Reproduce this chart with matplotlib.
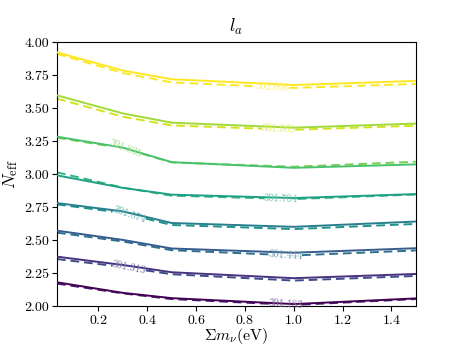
import numpy as np
import matplotlib
matplotlib.use("Agg")
import matplotlib.pyplot as plt

plt.rcParams["font.family"] = "serif"
plt.rcParams["font.serif"] = ["cmr10", "DejaVu Serif"]
plt.rcParams["mathtext.fontset"] = "cm"
plt.rcParams["axes.formatter.use_mathtext"] = True

# sum of neutrino masses (eV) where the grid was evaluated
mnu = [0.03, 0.3, 0.5, 1.0, 1.5]

# l_a contour levels, bottom to top
levels = [301.183, 301.313, 301.444, 301.574, 301.704, 301.835, 301.965, 302.096]

# N_eff of each contour at the mnu points: exact (solid) and approximation (dashed)
neff_solid = [
    [2.180, 2.100, 2.060, 2.015, 2.058],
    [2.374, 2.311, 2.256, 2.211, 2.243],
    [2.571, 2.501, 2.436, 2.404, 2.438],
    [2.780, 2.717, 2.629, 2.600, 2.640],
    [2.990, 2.895, 2.844, 2.818, 2.848],
    [3.283, 3.200, 3.090, 3.047, 3.073],
    [3.596, 3.459, 3.389, 3.351, 3.382],
    [3.922, 3.784, 3.718, 3.674, 3.705],
]
neff_dashed = [
    [2.170, 2.096, 2.053, 2.008, 2.053],
    [2.356, 2.296, 2.241, 2.193, 2.228],
    [2.556, 2.489, 2.423, 2.383, 2.421],
    [2.770, 2.705, 2.614, 2.583, 2.622],
    [3.013, 2.897, 2.836, 2.810, 2.845],
    [3.275, 3.195, 3.088, 3.055, 3.093],
    [3.571, 3.434, 3.368, 3.335, 3.366],
    [3.910, 3.765, 3.694, 3.652, 3.682],
]

# where the inline labels sit along the dashed lines
label_x = [0.966, 0.326, 0.966, 0.326, 0.948, 0.31, 0.939, 0.913]
GAP = 0.068  # half width of the gap cut in the dashed line for a label

fig = plt.figure(figsize=(4.63, 3.47), dpi=100)
ax = fig.add_axes([0.123, 0.118, 0.775, 0.761])

cmap = plt.get_cmap("viridis")
n = len(levels)
x = np.array(mnu)
for i in range(n):
    c_solid = cmap(i / (n - 1))
    c_dash = cmap(min(1.0, i / (n - 1) + 0.08))
    yd = np.array(neff_dashed[i])
    ax.plot(mnu, neff_solid[i], color=c_solid, lw=1.4, zorder=3)

    # dashed line in two pieces, leaving room for the label (like clabel inline)
    lx = label_x[i]
    a, b = lx - GAP, lx + GAP
    left = x < a
    right = x > b
    xl = np.append(x[left], a)
    yl = np.append(yd[left], np.interp(a, x, yd))
    xr = np.insert(x[right], 0, b)
    yr = np.insert(yd[right], 0, np.interp(b, x, yd))
    for xs, ys in ((xl, yl), (xr, yr)):
        ax.plot(xs, ys, color=c_dash, lw=1.4, ls=(0, (4.5, 2.5)), zorder=2)

    ly = np.interp(lx, x, yd)
    k = min(max(np.searchsorted(x, lx), 1), len(x) - 1)
    slope = (yd[k] - yd[k - 1]) / (x[k] - x[k - 1])
    ang = ax.transData.transform_angles(np.array([np.degrees(np.arctan(slope))]),
                                        np.array([[lx, ly]]))[0]
    lab_c = tuple(0.7 * np.array(c_dash[:3]) + 0.3)
    ax.text(lx, ly, f"{levels[i]:.3f}", color=lab_c, fontsize=7.5,
            ha="center", va="center", rotation=ang, rotation_mode="anchor", zorder=4)

ax.set_xlim(mnu[0], 1.5)
ax.set_ylim(2.0, 4.0)
ax.set_xticks([0.2, 0.4, 0.6, 0.8, 1.0, 1.2, 1.4])
ax.set_yticks(np.arange(2.0, 4.01, 0.25))
ax.yaxis.set_major_formatter(matplotlib.ticker.FormatStrFormatter("%.2f"))
ax.tick_params(labelsize=10, width=0.8, length=3.5, pad=2)
for s in ax.spines.values():
    s.set_linewidth(0.8)

ax.set_title(r"$l_a$", fontsize=13, pad=7)
ax.set_xlabel(r"$\Sigma m_\nu$(eV)", fontsize=11.5, labelpad=-0.5)
ax.set_ylabel(r"$N_{\rm eff}$", fontsize=12.5, labelpad=3)

fig.savefig("out.png", dpi=100)
